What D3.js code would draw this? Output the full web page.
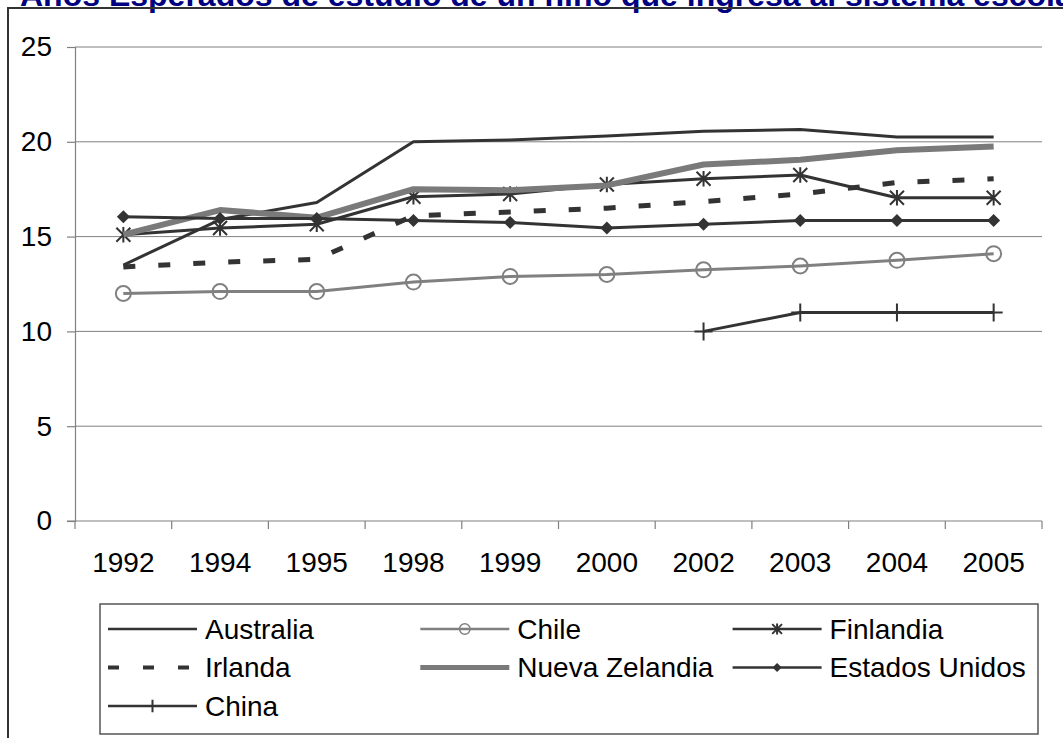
<!DOCTYPE html>
<html><head><meta charset="utf-8">
<script src="https://cdn.jsdelivr.net/npm/d3@7"></script>
<style>html,body{margin:0;padding:0;background:#fff;overflow:hidden}</style>
</head><body>
<svg id="c" width="1063" height="738"></svg>
<script>
const title = "Años Esperados de estudio de un niño que ingresa al sistema escolar";
const years = ["1992","1994","1995","1998","1999","2000","2002","2003","2004","2005"];
const yTicks = [0,5,10,15,20,25];
const australia = [13.5,15.9,16.8,20.0,20.1,20.3,20.55,20.65,20.25,20.25];
const chile = [12.0,12.1,12.1,12.6,12.9,13.0,13.25,13.45,13.75,14.1];
const finlandia = [15.1,15.45,15.65,17.1,17.25,17.75,18.05,18.25,17.05,17.05];
const irlanda = [13.4,13.65,13.8,16.1,16.3,16.5,16.85,17.25,17.85,18.05];
const nuevaZelandia = [15.1,16.4,16.0,17.5,17.45,17.7,18.8,19.05,19.55,19.75];
const estadosUnidos = [16.05,15.95,15.95,15.85,15.75,15.45,15.65,15.85,15.85,15.85];
const china = [null,null,null,null,null,null,10.0,11.0,11.0,11.0];
const seriesNames = ["Australia","Chile","Finlandia","Irlanda","Nueva Zelandia","Estados Unidos","China"];

const series = [
  {name:seriesNames[0], values:australia, color:"#333", width:3, dash:null, marker:null},
  {name:seriesNames[1], values:chile, color:"#808080", width:3, dash:null, marker:"circle"},
  {name:seriesNames[2], values:finlandia, color:"#333", width:3, dash:null, marker:"asterisk"},
  {name:seriesNames[3], values:irlanda, color:"#333", width:5, dash:"12,23", marker:null},
  {name:seriesNames[4], values:nuevaZelandia, color:"#7a7a7a", width:6, dash:null, marker:null},
  {name:seriesNames[5], values:estadosUnidos, color:"#333", width:3, dash:null, marker:"diamond"},
  {name:seriesNames[6], values:china, color:"#333", width:3, dash:null, marker:"plus"}
];

const font = "Liberation Sans, Arial, sans-serif";
const svg = d3.select("#c");
svg.append("text").attr("x",20).attr("y",6).attr("font-family",font)
  .attr("font-weight","bold").attr("font-size",32).attr("fill","#000080").text(title);
svg.append("path").attr("d","M8,760 L8,8 L1070,8").attr("fill","none").attr("stroke","#333").attr("stroke-width",2);

const pLeft=75, pRight=1042, pTop=47, pBottom=521;
const x = d3.scaleBand().domain(years).range([pLeft,pRight]);
const y = d3.scaleLinear().domain([0,25]).range([pBottom,pTop]);

svg.append("g").selectAll("line").data(yTicks.filter(d=>d>0)).join("line")
  .attr("x1",pLeft).attr("x2",pRight).attr("y1",d=>y(d)).attr("y2",d=>y(d))
  .attr("stroke","#808080").attr("stroke-width",1);

const ya = svg.append("g").attr("transform",`translate(${pLeft},0)`)
  .call(d3.axisLeft(y).tickValues(yTicks).tickSize(8).tickPadding(15));
ya.select(".domain").attr("stroke","#808080").attr("stroke-width",1.2);
ya.selectAll(".tick line").attr("stroke","#808080").attr("stroke-width",1.2);
ya.selectAll("text").attr("font-family",font).attr("font-size",28).attr("fill","#000");

const xa = svg.append("g").attr("transform",`translate(0,${pBottom})`)
  .call(d3.axisBottom(x).tickSize(0).tickPadding(31));
xa.select(".domain").remove();
xa.selectAll("text").attr("font-family",font).attr("font-size",28).attr("fill","#000");
svg.append("line").attr("x1",pLeft-8).attr("x2",pRight).attr("y1",pBottom).attr("y2",pBottom)
  .attr("stroke","#808080").attr("stroke-width",1.2);
svg.append("g").selectAll("line").data(d3.range(years.length+1)).join("line")
  .attr("x1",i=>pLeft+i*x.step()).attr("x2",i=>pLeft+i*x.step())
  .attr("y1",pBottom).attr("y2",pBottom+8).attr("stroke","#808080").attr("stroke-width",1.2);

function drawMarker(g, type, cx, cy, color, small){
  const s = small?0.7:1;
  if(type==="circle"){
    g.append("circle").attr("cx",cx).attr("cy",cy).attr("r",7.5*s).attr("fill","none")
      .attr("stroke",color).attr("stroke-width",small?1.5:2);
  } else if(type==="diamond"){
    const r=6.5*s;
    g.append("path").attr("d",`M${cx},${cy-r}L${cx+r},${cy}L${cx},${cy+r}L${cx-r},${cy}Z`).attr("fill",color);
  } else if(type==="asterisk"){
    const r=7*s;
    const p=`M${cx-r},${cy-r}L${cx+r},${cy+r}M${cx-r},${cy+r}L${cx+r},${cy-r}M${cx},${cy-r*1.1}L${cx},${cy+r*1.1}`;
    g.append("path").attr("d",p).attr("stroke",color).attr("stroke-width",2).attr("fill","none");
  } else if(type==="plus"){
    const r=9*s;
    g.append("path").attr("d",`M${cx},${cy-r}L${cx},${cy+r}M${cx-r},${cy}L${cx+r},${cy}`)
      .attr("stroke",color).attr("stroke-width",2).attr("fill","none");
  }
}

const line = d3.line().defined(d=>d.v!=null).x(d=>x(d.k)+x.bandwidth()/2).y(d=>y(d.v));
series.forEach(s=>{
  const pts = years.map((k,i)=>({k, v:s.values[i]}));
  const g = svg.append("g");
  g.append("path").attr("d",line(pts)).attr("fill","none").attr("stroke",s.color)
    .attr("stroke-width",s.width).attr("stroke-dasharray",s.dash).attr("stroke-linejoin","round");
  if(s.marker) pts.filter(p=>p.v!=null).forEach(p=>drawMarker(g,s.marker,x(p.k)+x.bandwidth()/2,y(p.v),s.color,false));
});

svg.append("rect").attr("x",100).attr("y",604).attr("width",938).attr("height",130)
  .attr("fill","#fff").attr("stroke","#555").attr("stroke-width",1.5);
const lg = svg.append("g");
series.forEach((s,i)=>{
  const col=i%3, row=Math.floor(i/3);
  const x0=108+col*312.3, cy=629+row*38.5;
  const g = lg.append("g");
  g.append("line").attr("x1",x0).attr("x2",x0+89).attr("y1",cy).attr("y2",cy)
    .attr("stroke",s.color).attr("stroke-width",s.name==="Nueva Zelandia"?5:(s.dash?4:2.5))
    .attr("stroke-dasharray",s.dash?"11,24":null);
  if(s.marker) drawMarker(g,s.marker,x0+44.5,cy,s.color,true);
  g.append("text").attr("x",x0+97).attr("y",cy).attr("dy","0.35em").attr("font-family",font)
    .attr("font-size",28).attr("fill","#000").text(s.name);
});
</script>
</body></html>
